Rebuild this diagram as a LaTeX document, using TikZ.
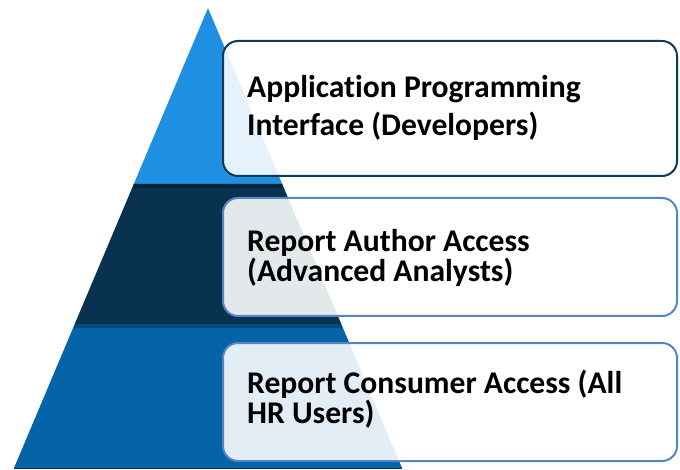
\documentclass[tikz,border=0pt]{standalone}
\usepackage{fontspec}
\setmainfont{Carlito}[RawFeature=-liga]
\usetikzlibrary{calc}
\definecolor{topblue}{HTML}{1E8FE1}
\definecolor{navy}{HTML}{08324F}
\definecolor{midblue}{HTML}{0563A8}
\definecolor{darkborder}{HTML}{0D3A5C}
\definecolor{lightborder}{HTML}{5585C5}
\tikzset{
  infobox/.style={rounded corners=15pt, line width=2pt, fill=white, fill opacity=0.89},
  label/.style={anchor=base west, align=left, inner sep=0pt, font=\bfseries\fontsize{31.6}{30}\selectfont, text=black},
  widelabel/.style={label, font=\bfseries\fontsize{31.6}{38}\selectfont}
}
\begin{document}
\begin{tikzpicture}[x=1pt,y=-1pt]
\useasboundingbox (0,0) rectangle (680,470);
% pyramid corners
\coordinate (apex) at (208,8);
\coordinate (bl) at (14,468);
\coordinate (br) at (402,468);
\path (apex) -- (bl) coordinate[pos=0.3826] (l1) coordinate[pos=0.6870] (l2);
\path (apex) -- (br) coordinate[pos=0.3826] (r1) coordinate[pos=0.6870] (r2);
% bands
\fill[topblue] (apex) -- (r1) -- (l1) -- cycle;
\fill[navy] (l1) -- (r1) -- (r2) -- (l2) -- cycle;
\fill[midblue] (l2) -- (r2) -- (br) -- (bl) -- cycle;
% subtle shading below band boundaries
\fill[black, opacity=0.25] (l1) -- (r1) -- ($(r1)+(0.8,4)$) -- ($(l1)+(-0.8,4)$) -- cycle;
\fill[black, opacity=0.25] (l2) -- (r2) -- ($(r2)+(0.8,4)$) -- ($(l2)+(-0.8,4)$) -- cycle;
\draw[navy, line width=1pt] (bl) -- (br);
% boxes
\draw[infobox, draw=darkborder] (223,41) rectangle (677,176);
\node[widelabel] (t1) at (247,136) {Application Programming\\Interface (Developers)};
\draw[infobox, draw=lightborder] (223,198) rectangle (677,316);
\node[label] (t2) at (247,282) {Report Author Access\\(Advanced Analysts)};
\draw[infobox, draw=lightborder] (223,343) rectangle (677,461);
\node[label] (t3) at (247,423) {Report Consumer Access (All\\HR Users)};
\end{tikzpicture}
\end{document}
